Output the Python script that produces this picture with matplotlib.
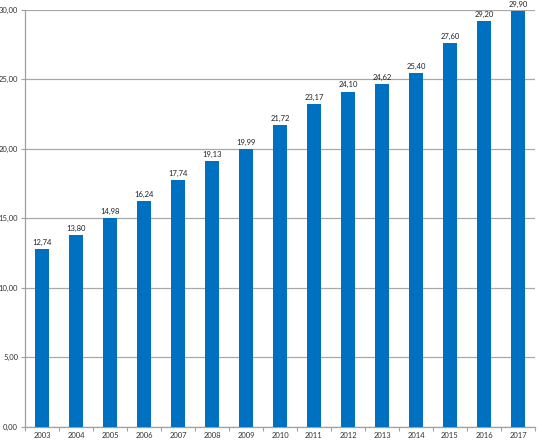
import matplotlib
matplotlib.use("Agg")
import matplotlib.pyplot as plt
import numpy as np

years = ["2003", "2004", "2005", "2006", "2007", "2008", "2009", "2010",
         "2011", "2012", "2013", "2014", "2015", "2016", "2017"]
values = [12.74, 13.80, 14.98, 16.24, 17.74, 19.13, 19.99, 21.72,
          23.17, 24.10, 24.62, 25.40, 27.60, 29.20, 29.90]
yticks = [0, 5, 10, 15, 20, 25, 30]

plt.rcParams['font.family'] = ['Lato', 'DejaVu Sans']

fig = plt.figure(figsize=(5.40, 4.42), dpi=100)
ax = fig.add_axes([25 / 540, 1 - 426.5 / 442, 510 / 540, 417 / 442])

x = np.arange(len(years))
ax.bar(x, values, width=0.44, color="#0070C0", zorder=3)

for xi, v in zip(x, values):
    ax.text(xi, v + 0.22, f"{v:.2f}".replace(".", ","), ha="center", va="bottom",
            fontsize=5.5, color="#222222", zorder=4)

ax.set_xlim(-0.5, len(years) - 0.5)
ax.set_ylim(0, 30)
ax.set_yticks(yticks)
ax.set_yticklabels([f"{t:.2f}".replace(".", ",") for t in yticks], fontsize=5.5, color="#333333")
ax.set_xticks(x)
ax.set_xticklabels(years, fontsize=5.5, color="#333333")
ax.set_xticks(np.arange(len(years) + 1) - 0.5, minor=True)
ax.tick_params(axis="x", which="major", length=0, pad=4)
ax.tick_params(axis="x", which="minor", length=3, color="#a0a0a0", width=0.8)
ax.tick_params(axis="y", length=3, color="#a0a0a0", width=0.8, pad=2)

ax.yaxis.grid(True, color="#a8a8a8", linewidth=0.9, zorder=0)
for side in ["top", "right"]:
    ax.spines[side].set_visible(False)
for side in ["left", "bottom"]:
    ax.spines[side].set_color("#a0a0a0")
    ax.spines[side].set_linewidth(0.9)

fig.savefig("out.png", dpi=100)
